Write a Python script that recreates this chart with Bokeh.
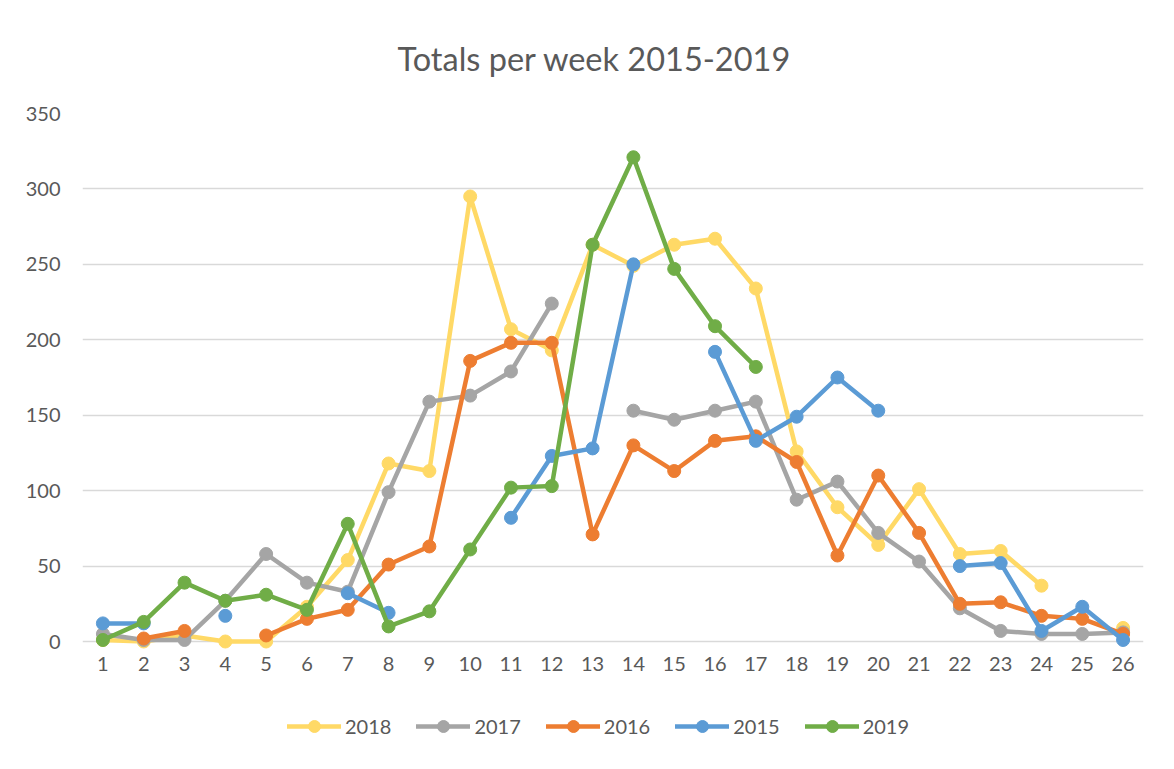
import math
from bokeh.plotting import figure
from bokeh.models import ColumnDataSource, Legend, LegendItem, FixedTicker
from bokeh.core.properties import value
from bokeh.embed import file_html
from bokeh.resources import INLINE

N = None
weeks = list(range(1, 27))
week_labels = [str(w) for w in weeks]
y_ticks = [0, 50, 100, 150, 200, 250, 300, 350]

series_names = ["2018", "2017", "2016", "2015", "2019"]
s2018 = [1, 0, 4, 0, 0, 23, 54, 118, 113, 295, 207, 193, 263, 249, 263, 267, 234, 126, 89, 64, 101, 58, 60, 37, N, 9]
s2017 = [5, 1, 1, 27, 58, 39, 33, 99, 159, 163, 179, 224, N, 153, 147, 153, 159, 94, 106, 72, 53, 22, 7, 5, 5, 6]
s2016 = [N, 2, 7, N, 4, 15, 21, 51, 63, 186, 198, 198, 71, 130, 113, 133, 136, 119, 57, 110, 72, 25, 26, 17, 15, 5]
s2015 = [12, 12, N, 17, N, N, 32, 19, N, N, 82, 123, 128, 250, N, 192, 133, 149, 175, 153, N, 50, 52, 7, 23, 1]
s2019 = [1, 13, 39, 27, 31, 21, 78, 10, 20, 61, 102, 103, 263, 321, 247, 209, 182, N, N, N, N, N, N, N, N, N]
colors = ["#FFD966", "#A5A5A5", "#ED7D31", "#5B9BD5", "#70AD47"]
all_series = [s2018, s2017, s2016, s2015, s2019]

FONT = "Lato"
TXT = "#595959"

# plot area: 0..350 over 528 px; extra space below zero holds week labels and legend
PX_PER_UNIT = 528 / 350
Y_BOTTOM = -120 / PX_PER_UNIT
LABEL_Y = -22 / PX_PER_UNIT

p = figure(frame_width=1061, frame_height=648, x_range=(0.5, 26.5), y_range=(Y_BOTTOM, 350),
           output_backend="svg", toolbar_location=None,
           title="Totals per week 2015-2019",
           min_border_left=82, min_border_right=23, min_border_top=113, min_border_bottom=0)
p.outline_line_color = None
p.background_fill_color = "white"
p.border_fill_color = "white"

p.title.align = "left"
p.title.offset = 315
p.title.text_font = FONT
p.title.text_font_size = "32.5px"
p.title.text_font_style = "normal"
p.title.text_color = TXT
p.title.standoff = 72

p.xgrid.grid_line_color = None
p.ygrid.grid_line_color = "#d9d9d9"
p.ygrid.grid_line_width = 1.3
p.xaxis.visible = False

p.yaxis.ticker = FixedTicker(ticks=y_ticks)
p.yaxis.axis_line_color = None
p.yaxis.major_tick_line_color = None
p.yaxis.minor_tick_line_color = None
p.yaxis.major_label_text_font = FONT
p.yaxis.major_label_text_font_size = "20px"
p.yaxis.major_label_text_color = TXT
p.yaxis.major_label_standoff = 16

# week (category) labels under the zero line
p.text(x=weeks, y=[LABEL_Y] * len(weeks), text=week_labels,
       text_font=value(FONT), text_font_size="20px", text_color=TXT,
       text_align="center", text_baseline="middle")

items = []
for name, vals, col in zip(series_names, all_series, colors):
    ys = [float("nan") if v is None else v for v in vals]
    src = ColumnDataSource(dict(x=weeks, y=ys))
    ln = p.line("x", "y", source=src, line_color=col, line_width=4.5, line_join="round", line_cap="round")
    sc = p.scatter("x", "y", source=src, size=13, fill_color=col, line_color=col)
    items.append(LegendItem(label=name, renderers=[ln, sc]))

legend = Legend(items=items, orientation="horizontal", location=(205, 20),
                label_text_font=FONT, label_text_font_size="20px", label_text_color=TXT,
                glyph_width=54, glyph_height=30, label_standoff=4, spacing=25,
                border_line_color=None, background_fill_alpha=0, margin=0, padding=8)
p.add_layout(legend, "center")

open("out.html", "w").write(file_html(p, INLINE))
